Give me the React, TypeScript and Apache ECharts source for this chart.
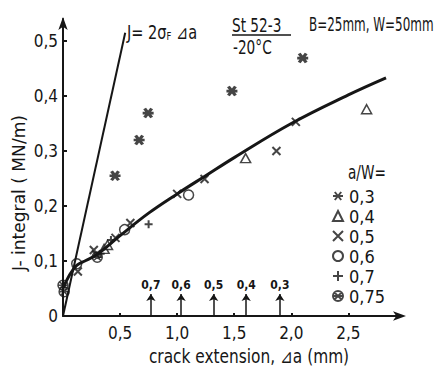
import React, { useEffect, useRef } from 'react';
import * as echarts from 'echarts';

const FONT = "'Liberation Sans Narrow', 'DejaVu Sans Condensed', 'Liberation Sans', sans-serif";
const INK = '#161616';

// a/W = 0.3 ... 0.75 test points [crack extension mm, J MN/m]
const s03 = [[0.456, 0.255], [0.667, 0.32], [0.746, 0.369], [1.48, 0.409], [2.10, 0.469]];
const s04 = [[0.36, 0.122], [0.39, 0.129], [1.60, 0.287], [2.66, 0.376]];
const s05 = [[0.13, 0.081], [0.27, 0.12], [0.29, 0.112], [0.46, 0.142], [0.59, 0.169], [1.0, 0.222], [1.24, 0.249], [1.87, 0.30], [2.04, 0.353]];
const s06 = [[0.12, 0.095], [0.54, 0.157], [1.10, 0.22]];
const s07 = [[0.33, 0.113], [0.42, 0.138], [0.75, 0.167]];
const s075 = [[0.0, 0.056], [0.01, 0.044], [0.30, 0.107]];

// fitted R-curve
const fitX = [0, 0.05, 0.12, 0.2, 0.3, 0.5, 0.75, 1.0, 1.25, 1.5, 2.0, 2.5, 2.83];
const fitY = [0.05, 0.072, 0.092, 0.101, 0.112, 0.146, 0.187, 0.222, 0.255, 0.288, 0.35, 0.402, 0.433];

// blunting line J = 2 sigma_F da
const bluntX = [0, 0.545];
const bluntY = [0, 0.515];

// arrows marking a/W on the crack-extension axis
const arrowX = [0.77, 1.035, 1.32, 1.605, 1.90];
const arrowLabels = ['0,7', '0,6', '0,5', '0,4', '0,3'];
const arrowTop = 0.04;

const seriesNames = ['0,3', '0,4', '0,5', '0,6', '0,7', '0,75'];

const SYM = {
  star: 'path://M0,5L10,5M1.8,1L8.2,9M8.2,1L1.8,9',
  cross: 'path://M0,0L10,10M10,0L0,10',
  plus: 'path://M5,0L5,10M0,5L10,5',
  hatched: 'path://M10,5A5,5,0,1,1,0,5A5,5,0,1,1,10,5ZM1.6,1.6L8.4,8.4M8.4,1.6L1.6,8.4M0,5L10,5',
};

const fmt = (v: number) => (Math.abs(v) < 1e-9 ? '0' : v.toFixed(1).replace('.', ','));

const label = (text: string, x: number, y: number, size: number, sx: number, extra: any = {}) => ({
  type: 'text', x, y, scaleX: sx, ...extra,
  style: { text, fontFamily: FONT, fontSize: size, fill: INK, verticalAlign: 'middle', ...(extra.style || {}) },
});

export default function App() {
  const ref = useRef<HTMLDivElement>(null);
  useEffect(() => {
    if (!ref.current) return;
    const chart = echarts.init(ref.current, undefined, { renderer: 'svg' });
    const strokeStyle = (w: number) => ({ color: 'transparent', borderColor: INK, borderWidth: w });
    const openStyle = { color: '#fff', borderColor: INK, borderWidth: 1.5 };
    chart.setOption({
      animation: false,
      backgroundColor: '#fff',
      grid: { left: 63, right: 36, top: 19, bottom: 54 },
      xAxis: {
        type: 'value', min: 0, max: 2.97, interval: 0.5,
        axisLine: { lineStyle: { color: INK, width: 2 }, symbol: ['none', 'arrow'], symbolSize: [7, 13], symbolOffset: [0, 4] },
        axisTick: { inside: true, length: 3, lineStyle: { color: INK, width: 2 } },
        axisLabel: {
          showMaxLabel: false, margin: 8, color: INK, fontFamily: FONT, fontSize: 17,
          formatter: (v: number) => (v === 0 ? '' : fmt(v)),
        },
        splitLine: { show: false },
      },
      yAxis: {
        type: 'value', min: 0, max: 0.54, interval: 0.1,
        axisLine: { lineStyle: { color: INK, width: 2 }, symbol: ['none', 'arrow'], symbolSize: [7, 13], symbolOffset: [0, 2] },
        axisTick: { inside: true, length: 4, lineStyle: { color: INK, width: 2 } },
        axisLabel: { showMaxLabel: false, margin: 5, color: INK, fontFamily: FONT, fontSize: 17, formatter: fmt },
        splitLine: { show: false },
      },
      legend: {
        orient: 'vertical', left: 332, top: 187, padding: 0,
        itemWidth: 10, itemHeight: 10, itemGap: 2,
        data: seriesNames,
        textStyle: { fontFamily: FONT, fontSize: 18, color: INK, lineHeight: 17, padding: [0, 0, 0, 1] },
      },
      graphic: [
        {
          type: 'text', x: 127, y: 33, scaleX: 0.85,
          style: {
            text: '{a|J= 2σ}{b|F}{a| ⊿a}', fill: INK, verticalAlign: 'middle',
            rich: { a: { fontFamily: FONT, fontSize: 19, fill: INK }, b: { fontFamily: FONT, fontSize: 11, fill: INK, padding: [7, 0, 0, 0] } },
          },
        },
        label('St 52-3', 232, 25, 19, 0.8),
        { type: 'line', shape: { x1: 232, y1: 35, x2: 291, y2: 35 }, style: { stroke: INK, lineWidth: 1.5 } },
        label('-20°C', 233, 47, 19, 0.8),
        label('B=25mm, W=50mm', 309, 25, 19, 0.7),
        label('a/W=', 348, 172, 19, 0.8),
        label('crack extension, ⊿a (mm)', 249, 356, 19, 0.9, { style: { align: 'center' } }),
        label('J- integral ( MN/m)', 19, 193, 19, 1, { rotation: Math.PI / 2, scaleY: 0.9, scaleX: 1, style: { align: 'center' } }),
      ],
      series: [
        { type: 'line', data: bluntX.map((x, i) => [x, bluntY[i]]), showSymbol: false, lineStyle: { color: INK, width: 2 }, silent: true },
        { type: 'line', data: fitX.map((x, i) => [x, fitY[i]]), smooth: 0.4, showSymbol: false, lineStyle: { color: INK, width: 3 }, silent: true },
        {
          type: 'lines', coordinateSystem: 'cartesian2d',
          data: arrowX.map((x, i) => ({ name: arrowLabels[i], coords: [[x, 0], [x, arrowTop]] })),
          lineStyle: { color: INK, width: 1.5, opacity: 1 },
          symbol: ['none', 'arrow'], symbolSize: 7,
          label: { show: true, position: 'end', distance: 3, formatter: '{b}', fontFamily: FONT, fontSize: 12, fontWeight: 'bold', color: INK },
        },
        { type: 'scatter', name: seriesNames[0], data: s03, symbol: SYM.star, symbolSize: [11, 9], itemStyle: strokeStyle(3) },
        { type: 'scatter', name: seriesNames[1], data: s04, symbol: 'triangle', symbolSize: [10, 9], itemStyle: openStyle },
        { type: 'scatter', name: seriesNames[2], data: s05, symbol: SYM.cross, symbolSize: 8, itemStyle: strokeStyle(2) },
        { type: 'scatter', name: seriesNames[3], data: s06, symbol: 'circle', symbolSize: 10, itemStyle: openStyle },
        { type: 'scatter', name: seriesNames[4], data: s07, symbol: SYM.plus, symbolSize: 8, itemStyle: strokeStyle(2) },
        { type: 'scatter', name: seriesNames[5], data: s075, symbol: SYM.hatched, symbolSize: 10, itemStyle: strokeStyle(1.5) },
      ],
    });
    return () => chart.dispose();
  }, []);
  return <div ref={ref} style={{ position: 'fixed', left: 0, top: 0, width: 438, height: 370, background: '#fff' }} />;
}
